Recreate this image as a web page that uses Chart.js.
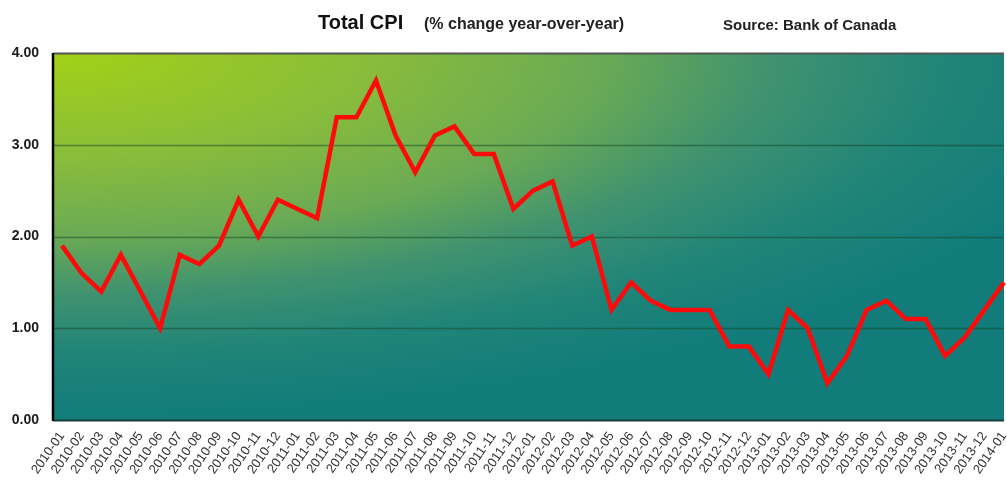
<!DOCTYPE html>
<html>
<head>
<meta charset="utf-8">
<script src="https://cdn.jsdelivr.net/npm/chart.js@4.4.1/dist/chart.umd.min.js"></script>
<style>
  body { margin: 0; background: #fff; }
  #wrap { position: relative; width: 1007px; height: 485px; font-family: "Liberation Sans", Arial, sans-serif; }
  #wrap canvas { position: absolute; left: 0; top: 0; }
  .ttl { position: absolute; font-weight: bold; color: #111; white-space: nowrap; line-height: 1; }
</style>
</head>
<body>
<div id="wrap">
  <canvas id="cpiChart" width="1007" height="485"></canvas>
  <div class="ttl" style="left:318px;top:12px;font-size:20px">Total CPI</div>
  <div class="ttl" style="left:424px;top:16px;font-size:16px;color:#222">(% change year-over-year)</div>
  <div class="ttl" style="left:723px;top:17px;font-size:15px;color:#222">Source: Bank of Canada</div>
</div>
<script>
// monthly labels, Jan 2010 to Jan 2014
const months = [
  '2010-01','2010-02','2010-03','2010-04','2010-05','2010-06','2010-07','2010-08','2010-09','2010-10','2010-11','2010-12',
  '2011-01','2011-02','2011-03','2011-04','2011-05','2011-06','2011-07','2011-08','2011-09','2011-10','2011-11','2011-12',
  '2012-01','2012-02','2012-03','2012-04','2012-05','2012-06','2012-07','2012-08','2012-09','2012-10','2012-11','2012-12',
  '2013-01','2013-02','2013-03','2013-04','2013-05','2013-06','2013-07','2013-08','2013-09','2013-10','2013-11','2013-12',
  '2014-01'
];

// total CPI, % change year over year
const cpi = [
  1.9, 1.6, 1.4, 1.8, 1.4, 1.0, 1.8, 1.7, 1.9, 2.4, 2.0, 2.4,
  2.3, 2.2, 3.3, 3.3, 3.7, 3.1, 2.7, 3.1, 3.2, 2.9, 2.9, 2.3,
  2.5, 2.6, 1.9, 2.0, 1.2, 1.5, 1.3, 1.2, 1.2, 1.2, 0.8, 0.8,
  0.5, 1.2, 1.0, 0.4, 0.7, 1.2, 1.3, 1.1, 1.1, 0.7, 0.9, 1.2,
  1.5
];

const yTicks = [0, 1, 2, 3, 4];

// gradient panel + grid lines, plot starts a bit left of the first point
const panel = {
  id: 'panel',
  beforeDatasetsDraw(chart) {
    const { ctx, chartArea: a, scales } = chart;
    const left = a.left - 9;
    const w = a.right - left, h = a.bottom - a.top;
    ctx.save();
    ctx.beginPath();
    ctx.rect(left, a.top, w, h);
    ctx.clip();
    ctx.translate(left, a.top);
    ctx.scale(w * 1.15, h);
    const g = ctx.createRadialGradient(0, 0, 0, 0, 0, 1);
    g.addColorStop(0, '#a2d116');
    g.addColorStop(0.28, '#8abd3a');
    g.addColorStop(0.5, '#6aaa55');
    g.addColorStop(0.66, '#3f9270');
    g.addColorStop(0.82, '#208478');
    g.addColorStop(1, '#117c7a');
    ctx.fillStyle = g;
    ctx.fillRect(0, 0, 1, 1);
    ctx.restore();

    ctx.save();
    yTicks.forEach(v => {
      const y = Math.round(scales.y.getPixelForValue(v)) + 0.5;
      ctx.beginPath();
      if (v === 0 || v === 4) {
        ctx.strokeStyle = v === 4 ? '#555' : '#16403c';
        ctx.lineWidth = 2;
      } else {
        ctx.strokeStyle = 'rgba(20,70,35,0.5)';
        ctx.lineWidth = 1.5;
      }
      ctx.moveTo(left, y);
      ctx.lineTo(a.right, y);
      ctx.stroke();
    });
    // left axis line
    ctx.strokeStyle = '#000';
    ctx.lineWidth = 2.5;
    ctx.beginPath();
    ctx.moveTo(left, a.top);
    ctx.lineTo(left, a.bottom + 1);
    ctx.stroke();
    ctx.restore();
  }
};

const cpiChart = new Chart(document.getElementById('cpiChart'), {
  type: 'line',
  data: {
    labels: months,
    datasets: [{
      data: cpi,
      borderColor: '#ff0a0a',
      borderWidth: 4.5,
      borderJoinStyle: 'miter',
      pointRadius: 0,
      tension: 0,
      fill: false
    }]
  },
  options: {
    responsive: false,
    animation: false,
    layout: { padding: { left: 8, top: 53, right: 3, bottom: 0 } },
    plugins: {
      legend: { display: false },
      title: { display: false },
      tooltip: { enabled: false }
    },
    scales: {
      x: {
        offset: false,
        grid: { display: false, drawTicks: false },
        border: { display: false },
        ticks: {
          autoSkip: false,
          minRotation: 55,
          maxRotation: 55,
          padding: 9,
          color: '#333',
          font: { family: 'Liberation Sans, Arial, sans-serif', size: 13 }
        },
        afterFit(s) { s.height = 65; s.paddingRight = 0; s.paddingLeft = 0; }
      },
      y: {
        min: 0,
        max: 4,
        grid: { display: false, drawTicks: false },
        border: { display: false },
        ticks: {
          stepSize: 1,
          padding: 23,
          color: '#1a1a1a',
          font: { family: 'Liberation Sans, Arial, sans-serif', size: 14, weight: 'bold' },
          callback: v => v.toFixed(2)
        },
        afterFit(s) { s.width = 54; }
      }
    }
  },
  plugins: [panel]
});
</script>
</body>
</html>
